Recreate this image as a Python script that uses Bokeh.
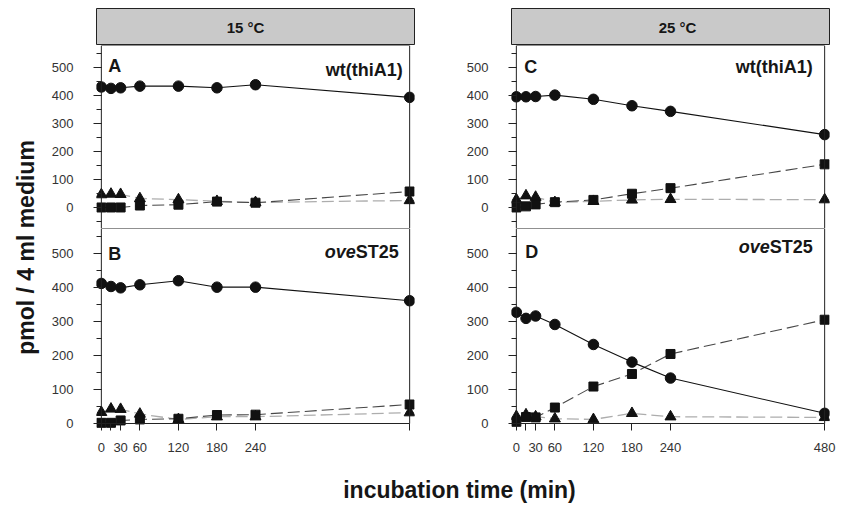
import numpy as np
from bokeh.plotting import figure
from bokeh.layouts import row, column
from bokeh.models import Range1d, FixedTicker, SingleIntervalTicker, BoxAnnotation, Label
from bokeh.embed import file_html
from bokeh.resources import INLINE

# ---------------- data ----------------
times = [0, 15, 30, 60, 120, 180, 240, 480]
x_ticks = [0, 15, 30, 60, 120, 180, 240, 480]
temps = ["15 °C", "25 °C"]
letters = ["A", "B", "C", "D"]
strain_wt = "wt(thiA1)"
strain_ove_prefix = "ove"
strain_ove_suffix = "ST25"
y_label = "pmol / 4 ml medium"
x_label = "incubation time (min)"

circ_A = [430, 425, 427, 433, 433, 427, 438, 393]
sq_A = [0, 0, 0, 7, 10, 21, 17, 57]
tri_A = [46, 48, 47, 32, 28, 22, 18, 25]

circ_B = [413, 404, 400, 409, 421, 402, 402, 362]
sq_B = [2, 2, 9, 12, 14, 25, 26, 56]
tri_B = [33, 43, 42, 28, 12, 20, 20, 32]

circ_C = [395, 395, 396, 401, 386, 363, 343, 260]
sq_C = [0, 4, 11, 19, 27, 49, 69, 154]
tri_C = [28, 42, 37, 18, 22, 27, 29, 28]

circ_D = [328, 310, 317, 292, 233, 181, 134, 30]
sq_D = [5, 19, 18, 47, 109, 146, 205, 306]
tri_D = [21, 26, 20, 14, 12, 30, 20, 18]

# ---------------- style / geometry ----------------
FONT = "Liberation Sans"
TXT = "#161616"
PAD = 5            # px of frame beyond the drawn box, so edge markers are not clipped
BOX_W = 318
X_MAX = 480
TOP_RANGE = (-75, 578)
TOP_H = 183
BOT_RANGE = (0, 575)
BOT_H = 195
BOT_BORDER = 32
HEAD_TOP = 8
HEAD_H = 37
ST_W = 43          # width (px) of "ST25" in 18px bold
YLAB_W = 43


def x_range_padded():
    u = X_MAX / BOX_W
    return Range1d(-PAD * u, X_MAX + PAD * u)


def header(text, left, right, dx):
    p = figure(width=left + BOX_W + right, height=HEAD_TOP + HEAD_H,
               x_range=Range1d(0, 1), y_range=Range1d(0, 1),
               min_border_left=left, min_border_right=right,
               min_border_top=HEAD_TOP, min_border_bottom=0,
               x_axis_location=None, y_axis_location=None,
               toolbar_location=None, output_backend="svg",
               background_fill_color="#c9c9c9", border_fill_color="white",
               outline_line_color="#222222", outline_line_width=1)
    p.grid.visible = False
    p.add_layout(Label(x=0.5, y=0.5, x_offset=dx, text=text, text_align="center",
                       text_baseline="middle", text_font=FONT, text_font_style="bold",
                       text_font_size="15px", text_color=TXT))
    return p


def panel(circ, sq, tri, letter, strain_kind, bottom, left, right,
          letter_dx, letter_dy, strain_dx, strain_dy, overrides=None):
    if bottom:
        lo, hi = BOT_RANGE
        u = (hi - lo) / BOT_H
        yr = Range1d(lo - PAD * u, hi)
        fh = BOT_H + PAD
        h = fh + BOT_BORDER
        mb = BOT_BORDER
        xloc = "below"
    else:
        lo, hi = TOP_RANGE
        yr = Range1d(lo, hi)
        h = TOP_H
        mb = 0
        xloc = None
    p = figure(width=left + BOX_W + 2 * PAD + right, height=h,
               x_range=x_range_padded(), y_range=yr,
               min_border_left=left, min_border_right=right,
               min_border_top=0, min_border_bottom=mb,
               x_axis_location=xloc, y_axis_location="left",
               toolbar_location=None, output_backend="svg",
               outline_line_color=None, background_fill_color="white",
               border_fill_color="white")
    p.grid.visible = False

    ya = p.yaxis[0]
    ya.ticker = SingleIntervalTicker(interval=100, num_minor_ticks=2)
    ya.axis_line_color = None
    ya.major_tick_in = PAD
    ya.major_tick_out = 3
    ya.minor_tick_in = PAD
    ya.minor_tick_out = 0
    ya.major_tick_line_color = "#222222"
    ya.minor_tick_line_color = "#222222"
    ya.major_label_text_font = FONT
    ya.major_label_text_font_size = "13px"
    ya.major_label_text_color = "#333333"
    ya.major_label_standoff = 20

    if bottom:
        xa = p.xaxis[0]
        xa.ticker = FixedTicker(ticks=x_ticks, minor_ticks=[])
        xa.axis_line_color = None
        xa.major_tick_in = PAD
        xa.major_tick_out = 2
        xa.major_tick_line_color = "#222222"
        xa.major_label_text_font = FONT
        xa.major_label_text_font_size = "13px"
        xa.major_label_text_color = "#333333"
        xa.major_label_standoff = 12
        if overrides:
            xa.major_label_overrides = overrides

    p.add_layout(BoxAnnotation(left=0, right=X_MAX, bottom=lo, top=hi,
                               fill_color=None, fill_alpha=0,
                               line_color="#222222", line_alpha=1, line_width=1))

    p.line(times, tri, line_color="#adadad", line_dash="12 5", line_width=1.3)
    p.line(times, sq, line_color="#474747", line_dash="12 5", line_width=1.1)
    p.line(times, circ, line_color="#111111", line_width=1.1)
    p.scatter(times, tri, marker="triangle", size=11, color="#111111")
    p.scatter(times, sq, marker="square", size=9, color="#111111")
    p.scatter(times, circ, marker="circle", size=10.5, color="#111111")

    lab = dict(text_font=FONT, text_font_style="bold", text_font_size="18px",
               text_baseline="middle", text_color=TXT)
    p.add_layout(Label(x=0, y=hi, x_offset=letter_dx, y_offset=letter_dy,
                       text=letter, text_align="left", **lab))
    if strain_kind == "wt":
        p.add_layout(Label(x=X_MAX, y=hi, x_offset=strain_dx, y_offset=strain_dy,
                           text=strain_wt, text_align="right", **lab))
    else:
        p.add_layout(Label(x=X_MAX, y=hi, x_offset=strain_dx, y_offset=strain_dy,
                           text=strain_ove_suffix, text_align="right", **lab))
        lab_i = dict(lab)
        lab_i["text_font_style"] = "bold italic"
        p.add_layout(Label(x=X_MAX, y=hi, x_offset=strain_dx - ST_W, y_offset=strain_dy,
                           text=strain_ove_prefix, text_align="right", **lab_i))
    return p


# page coordinates: y-label strip x 0..43, left column 43..420, right column 420..842
LB = 91 - YLAB_W   # left border of left column so the box starts at x=96
hL = header(temps[0], LB + PAD, 6, -10)
pA = panel(circ_A, sq_A, tri_A, letters[0], "wt", False, LB, 1, 7, -20, -7, -24)
pB = panel(circ_B, sq_B, tri_B, letters[1], "ove", True, LB, 1, 7, -25, -11, -23,
           overrides={15: "", 480: ""})

hR = header(temps[1], 91, 13, 7)
pC = panel(circ_C, sq_C, tri_C, letters[2], "wt", False, 86, 8, 8, -21, -12, -21)
pD = panel(circ_D, sq_D, tri_D, letters[3], "ove", True, 86, 8, 9, -23, -12, -18,
           overrides={15: ""})

col_h = HEAD_TOP + HEAD_H + TOP_H + BOT_H + PAD + BOT_BORDER

ylab = figure(width=YLAB_W, height=col_h, x_range=Range1d(0, YLAB_W), y_range=Range1d(col_h, 0),
              min_border=0, x_axis_location=None, y_axis_location=None,
              toolbar_location=None, output_backend="svg", outline_line_color=None)
ylab.grid.visible = False
ylab.add_layout(Label(x=25, y=247, text=y_label, angle=np.pi / 2, text_align="center",
                      text_baseline="middle", text_font=FONT, text_font_style="bold",
                      text_font_size="23px", text_color=TXT))

XL_H = 44
xlab = figure(width=842, height=XL_H, x_range=Range1d(0, 842), y_range=Range1d(XL_H, 0),
              min_border=0, x_axis_location=None, y_axis_location=None,
              toolbar_location=None, output_backend="svg", outline_line_color=None)
xlab.grid.visible = False
xlab.add_layout(Label(x=459, y=29, text=x_label, text_align="center",
                      text_baseline="middle", text_font=FONT, text_font_style="bold",
                      text_font_size="23px", text_color=TXT))

layout = column(row(ylab, column(hL, pA, pB), column(hR, pC, pD)), xlab)

open("out.html", "w").write(file_html(layout, INLINE))
